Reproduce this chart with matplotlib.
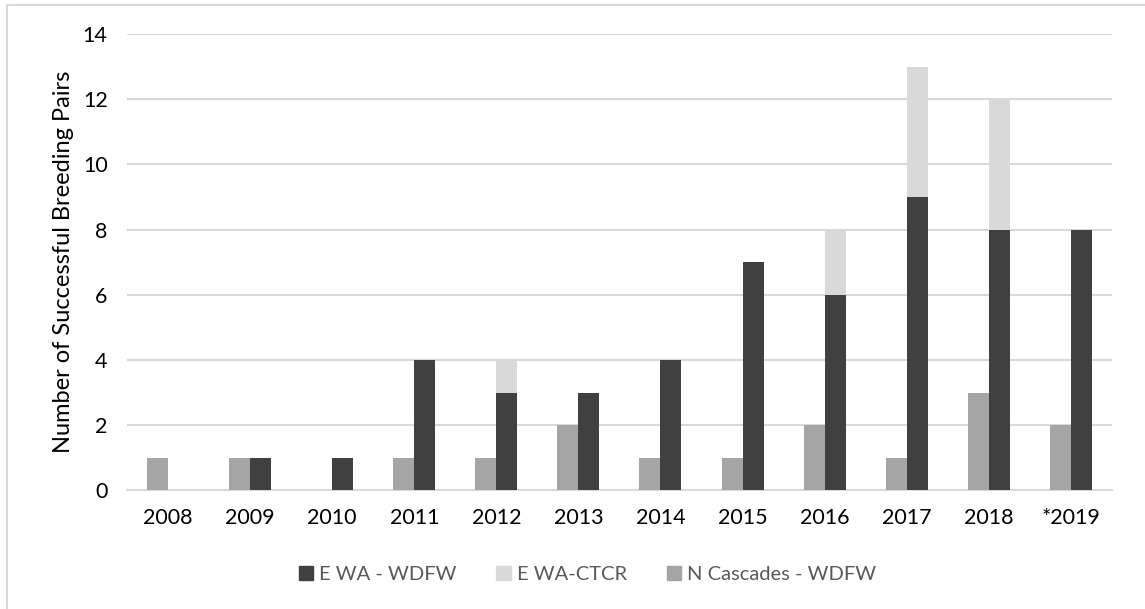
import numpy as np
import matplotlib
matplotlib.use("Agg")
import matplotlib.pyplot as plt
from matplotlib.patches import Rectangle, Patch

plt.rcParams['font.family'] = ['Lato', 'DejaVu Sans']

# Breeding pairs by year and group
years = ['2008', '2009', '2010', '2011', '2012', '2013', '2014', '2015',
         '2016', '2017', '2018', '*2019']
n_cascades_wdfw = [1, 1, 0, 1, 1, 2, 1, 1, 2, 1, 3, 2]
e_wa_wdfw = [0, 1, 1, 4, 3, 3, 4, 7, 6, 9, 8, 8]
e_wa_ctcr = [0, 0, 0, 0, 1, 0, 0, 0, 2, 4, 4, 0]
y_ticks = [0, 2, 4, 6, 8, 10, 12, 14]

c_dark = '#404040'
c_ctcr = '#d9d9d9'
c_ncas = '#a5a5a5'
c_grid = '#d9d9d9'

fig = plt.figure(figsize=(11.45, 6.09), dpi=100)
ax = fig.add_axes([0.111, 0.195, 0.86, 0.749])

x = np.arange(len(years))
w = 0.256
ax.bar(x - w / 2, n_cascades_wdfw, w, color=c_ncas, zorder=3)
ax.bar(x + w / 2, e_wa_wdfw, w, color=c_dark, zorder=3)
ax.bar(x + w / 2, e_wa_ctcr, w, bottom=e_wa_wdfw, color=c_ctcr, zorder=3)

ax.set_xlim(-0.5, len(years) - 0.5)
ax.set_ylim(0, 14)
ax.set_yticks(y_ticks)
ax.set_xticks(x)
ax.set_xticklabels(years)
ax.tick_params(axis='both', length=0, labelsize=15.5, colors='black')
ax.tick_params(axis='x', pad=13)
ax.tick_params(axis='y', pad=14)
ax.yaxis.grid(True, color=c_grid, linewidth=1.5, zorder=0)
for s in ['top', 'right', 'left']:
    ax.spines[s].set_visible(False)
ax.spines['bottom'].set_color(c_grid)
ax.spines['bottom'].set_linewidth(1.5)
ax.set_ylabel('Number of Successful Breeding Pairs', fontsize=17, labelpad=6)

handles = [Patch(color=c_dark), Patch(color=c_ctcr), Patch(color=c_ncas)]
labels = ['E WA - WDFW', 'E WA-CTCR', 'N Cascades - WDFW']
leg = fig.legend(handles, labels, loc='center', bbox_to_anchor=(0.513, 0.056),
                 ncol=3, frameon=False, fontsize=14.5, handlelength=0.7,
                 handleheight=0.7, handletextpad=0.3, columnspacing=2.0)
for t in leg.get_texts():
    t.set_color('#595959')

# light chart-area border
fig.patches.append(Rectangle((7 / 1145, -0.1), 1.2, 1.1 - 5 / 609,
                             transform=fig.transFigure, fill=False,
                             edgecolor=c_grid, linewidth=1.5))

fig.savefig('out.png', dpi=100)
